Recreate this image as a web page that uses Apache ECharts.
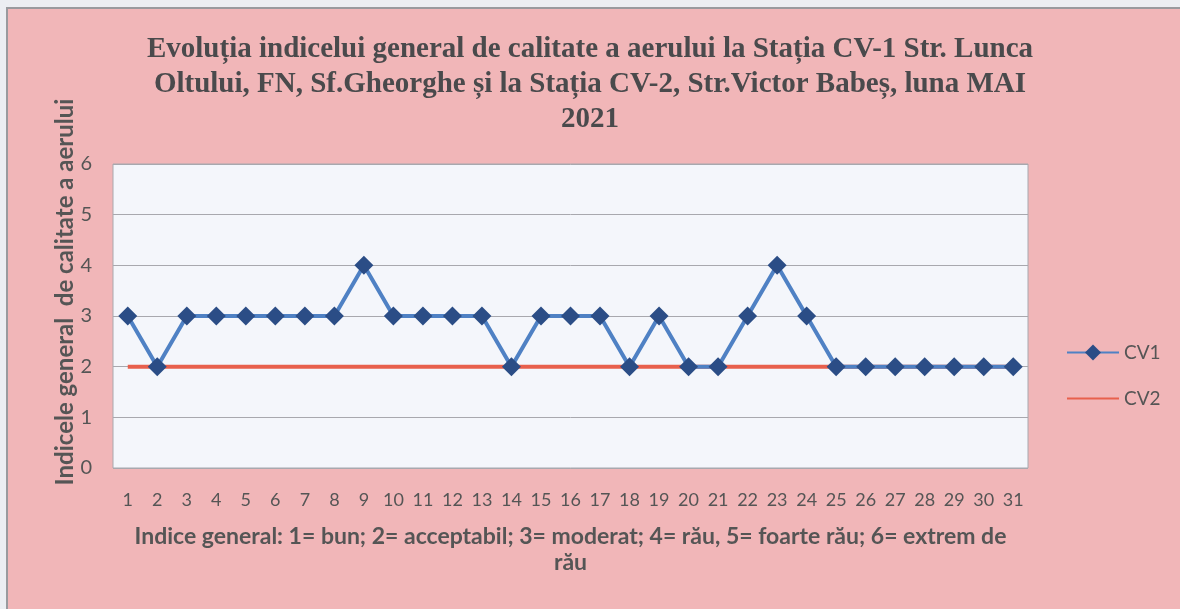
<!DOCTYPE html>
<html>
<head>
<meta charset="utf-8">
<script src="https://cdn.jsdelivr.net/npm/echarts@6/dist/echarts.min.js"></script>
<style>
  html, body { margin: 0; padding: 0; background: #eceef2; overflow: hidden; }
  #frame { position: absolute; left: 6px; top: 7px; width: 1180px; height: 609px;
           background: #f1b6b8; border-left: 2px solid #9a9a9e; border-top: 2px solid #9a9a9e; }
  #main { position: absolute; left: 0; top: 0; width: 1180px; height: 609px; }
</style>
</head>
<body>
<div id="frame"></div>
<div id="main"></div>
<script>
// zilele lunii mai
const days = ['1','2','3','4','5','6','7','8','9','10','11','12','13','14','15','16',
  '17','18','19','20','21','22','23','24','25','26','27','28','29','30','31']
// CV1 - Str. Lunca Oltului
const cv1 = [3,2,3,3,3,3,3,3,4,3,3,3,3,2,3,3,3,2,3,2,2,3,4,3,2,2,2,2,2,2,2]
// CV2 - Str. Victor Babes
const cv2 = [2,2,2,2,2,2,2,2,2,2,2,2,2,2,2,2,2,2,2,2,2,2,2,2,2,2,2,2,2,2,2]

const titleText = 'Evoluția indicelui general de calitate a aerului la Stația CV-1 Str. Lunca\n' +
  'Oltului, FN, Sf.Gheorghe și la Stația CV-2, Str.Victor Babeș, luna MAI\n2021'
const xName = 'Indice general: 1= bun; 2= acceptabil; 3= moderat; 4= rău, 5= foarte rău; 6= extrem de\nrău'
const yName = 'Indicele general  de calitate a aerului'

const chart = echarts.init(document.getElementById('main'))

chart.setOption({
  backgroundColor: 'transparent',
  animation: false,
  textStyle: { fontFamily: 'Lato' },
  title: {
    text: titleText,
    left: 'center',
    top: 27,
    textStyle: {
      fontFamily: 'Liberation Serif',
      fontWeight: 'bold',
      fontSize: 29,
      lineHeight: 35,
      color: '#4a4a4c'
    }
  },
  legend: {
    orient: 'vertical',
    left: 1061,
    top: 338,
    itemGap: 27,
    itemWidth: 52,
    itemHeight: 20,
    data: [{ name: 'CV1' }, { name: 'CV2', itemStyle: { opacity: 0 } }],
    textStyle: { fontSize: 19, color: '#555', fontFamily: 'Lato' }
  },
  grid: {
    left: 113,
    top: 164,
    width: 915,
    height: 304,
    show: true,
    backgroundColor: '#f4f6fb',
    borderColor: '#a8a8ae',
    borderWidth: 1
  },
  xAxis: {
    type: 'category',
    data: days,
    boundaryGap: true,
    axisLine: { show: false },
    axisTick: { show: false },
    axisLabel: { fontSize: 18, color: '#555', margin: 23, interval: 0 },
    name: xName,
    nameLocation: 'middle',
    nameGap: 56,
    nameTextStyle: { fontSize: 23, fontWeight: 'bold', color: '#555', lineHeight: 26 }
  },
  yAxis: {
    type: 'value',
    min: 0,
    max: 6,
    interval: 1,
    axisLine: { show: false },
    axisTick: { show: false },
    axisLabel: { fontSize: 20, color: '#555', margin: 21 },
    splitLine: { lineStyle: { color: '#a8a8ae', width: 1 } }
  },
  graphic: [{
    type: 'text',
    x: 65,
    y: 292,
    rotation: Math.PI / 2,
    style: {
      text: yName,
      font: 'bold 24px Lato',
      fill: '#555',
      align: 'center',
      verticalAlign: 'middle'
    }
  }],
  series: [
    {
      name: 'CV1',
      type: 'line',
      data: cv1,
      z: 3,
      symbol: 'diamond',
      symbolSize: 19,
      itemStyle: { color: '#2b4d86' },
      lineStyle: { color: '#4f81c4', width: 4 }
    },
    {
      name: 'CV2',
      type: 'line',
      data: cv2,
      z: 2,
      symbol: 'none',
      itemStyle: { color: '#e8604d' },
      lineStyle: { color: '#e8604d', width: 4 }
    }
  ]
})
</script>
</body>
</html>
